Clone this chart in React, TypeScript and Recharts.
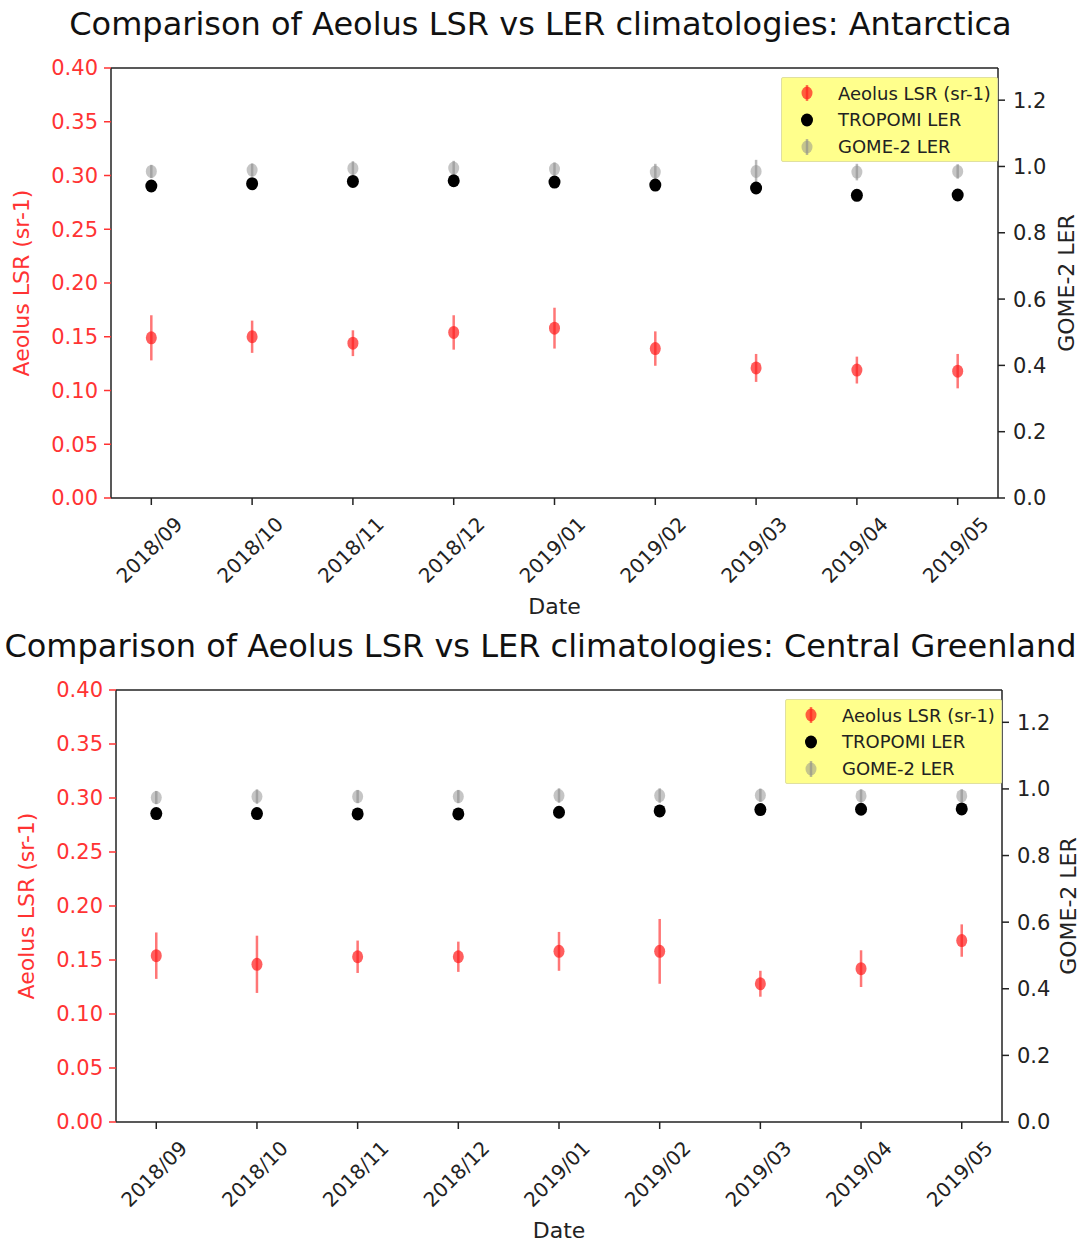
import React from 'react';
import { ScatterChart, Scatter, XAxis, YAxis, ErrorBar, ReferenceLine } from 'recharts';

const FONT = '"DejaVu Sans", Verdana, sans-serif';

const categories = ['2018/09', '2018/10', '2018/11', '2018/12', '2019/01', '2019/02', '2019/03', '2019/04', '2019/05'];
const leftTicks = [0, 0.05, 0.1, 0.15, 0.2, 0.25, 0.3, 0.35, 0.4];
const rightTicks = [0, 0.2, 0.4, 0.6, 0.8, 1.0, 1.2];

// Antarctica
const antAeolus = [0.149, 0.150, 0.144, 0.154, 0.158, 0.139, 0.121, 0.119, 0.118];
const antAeolusErr = [0.021, 0.015, 0.012, 0.016, 0.019, 0.016, 0.013, 0.0125, 0.016];
const antTropomi = [0.941, 0.948, 0.955, 0.957, 0.953, 0.944, 0.935, 0.913, 0.914];
const antGome = [0.985, 0.989, 0.994, 0.995, 0.992, 0.983, 0.985, 0.983, 0.985];
const antGomeErr = [0.02, 0.02, 0.022, 0.022, 0.02, 0.025, 0.035, 0.025, 0.022];

// Central Greenland
const grnAeolus = [0.154, 0.146, 0.153, 0.153, 0.158, 0.158, 0.128, 0.142, 0.168];
const grnAeolusErr = [0.0215, 0.0265, 0.015, 0.014, 0.018, 0.030, 0.012, 0.017, 0.015];
const grnTropomi = [0.926, 0.926, 0.925, 0.925, 0.930, 0.934, 0.938, 0.939, 0.940];
const grnGome = [0.974, 0.977, 0.977, 0.977, 0.980, 0.980, 0.981, 0.979, 0.979];
const grnGomeErr = [0.02, 0.022, 0.02, 0.02, 0.022, 0.022, 0.02, 0.02, 0.02];

const toPoints = (vals: number[], errs?: number[]) =>
  vals.map((v, i) => ({ x: i, y: v, err: errs ? errs[i] : 0 }));

const RED = '#ff1a1a';
const GREY = '#8c8c8c';

const redShape = (p: any) => (
  <ellipse cx={p.cx} cy={p.cy} rx={5.5} ry={6.5} fill={RED} fillOpacity={0.7} />
);
const blackShape = (p: any) => (
  <ellipse cx={p.cx} cy={p.cy} rx={6} ry={6.5} fill="#000" />
);
const greyShape = (p: any) => (
  <ellipse cx={p.cx} cy={p.cy} rx={5.5} ry={6.5} fill={GREY} fillOpacity={0.5} />
);

const XTick = (props: any) => {
  const { x, y, payload } = props;
  const cx = x - 2;
  const cy = y + 43;
  return (
    <text
      x={cx}
      y={cy}
      textAnchor="middle"
      dominantBaseline="central"
      fontSize={20}
      fontFamily={FONT}
      fill="#222"
      transform={`rotate(-45, ${cx}, ${cy})`}
    >
      {categories[payload.value]}
    </text>
  );
};

type PanelProps = {
  title: string;
  top: number;
  height: number;
  plotLeft: number;
  plotRight: number;
  plotTop: number;
  plotBottom: number;
  aeolus: number[];
  aeolusErr: number[];
  tropomi: number[];
  gome: number[];
  gomeErr: number[];
  legendBox: { left: number; top: number; width: number; height: number };
  rightLabelX: number;
};

const LegendMarker = ({ kind }: { kind: 'red' | 'black' | 'grey' }) => (
  <svg width={14} height={18} style={{ display: 'block' }}>
    {kind === 'red' && (
      <g>
        <line x1={7} y1={1} x2={7} y2={17} stroke={RED} strokeOpacity={0.6} strokeWidth={2.5} />
        <ellipse cx={7} cy={9} rx={5.5} ry={6.5} fill={RED} fillOpacity={0.7} />
      </g>
    )}
    {kind === 'black' && <ellipse cx={7} cy={9} rx={6} ry={6.5} fill="#000" />}
    {kind === 'grey' && (
      <g>
        <line x1={7} y1={1} x2={7} y2={17} stroke={GREY} strokeOpacity={0.6} strokeWidth={2.5} />
        <ellipse cx={7} cy={9} rx={5.5} ry={6.5} fill={GREY} fillOpacity={0.5} />
      </g>
    )}
  </svg>
);

const legendItems: { kind: 'red' | 'black' | 'grey'; label: string }[] = [
  { kind: 'red', label: 'Aeolus LSR (sr-1)' },
  { kind: 'black', label: 'TROPOMI LER' },
  { kind: 'grey', label: 'GOME-2 LER' },
];

function Panel(props: PanelProps) {
  const { title, top, height, plotLeft, plotRight, plotTop, plotBottom, legendBox } = props;
  const W = 1081;
  const yAxisW = 60;
  const xAxisH = 60;
  const margin = {
    left: plotLeft - yAxisW,
    right: W - plotRight - yAxisW,
    top: plotTop,
    bottom: height - plotBottom - xAxisH,
  };
  const midY = (plotTop + plotBottom) / 2;
  const midX = (plotLeft + plotRight) / 2;
  return (
    <div style={{ position: 'absolute', left: 0, top, width: W, height }}>
      <div
        style={{
          position: 'absolute',
          left: 0,
          width: W,
          top: plotTop - 62,
          textAlign: 'center',
          fontFamily: FONT,
          fontSize: 32,
          lineHeight: '36px',
          color: '#111',
          whiteSpace: 'nowrap',
        }}
      >
        {title}
      </div>
      <div style={{ position: 'absolute', left: 0, top: 0 }}>
        <ScatterChart width={W} height={height} margin={margin}>
          <XAxis
            type="number"
            dataKey="x"
            domain={[-0.4, 8.4]}
            ticks={[0, 1, 2, 3, 4, 5, 6, 7, 8]}
            interval={0}
            height={xAxisH}
            tickSize={7}
            tickMargin={2}
            tick={<XTick />}
            tickLine={{ stroke: '#222', strokeWidth: 1.5 }}
            axisLine={{ stroke: '#222', strokeWidth: 1.5 }}
          />
          <YAxis
            yAxisId="left"
            orientation="left"
            type="number"
            dataKey="y"
            domain={[0, 0.4]}
            ticks={leftTicks}
            interval={0}
            width={yAxisW}
            tickSize={7}
            tickMargin={6}
            tickFormatter={(v: number) => v.toFixed(2)}
            tick={{ fill: '#ff3333', fontSize: 21, fontFamily: FONT }}
            tickLine={{ stroke: '#ff3333', strokeWidth: 1.5 }}
            axisLine={{ stroke: '#222', strokeWidth: 1.5 }}
          />
          <YAxis
            yAxisId="right"
            orientation="right"
            type="number"
            dataKey="y"
            domain={[0, 1.297]}
            allowDataOverflow
            ticks={rightTicks}
            interval={0}
            width={yAxisW}
            tickSize={7}
            tickMargin={8}
            tickFormatter={(v: number) => v.toFixed(1)}
            tick={{ fill: '#222', fontSize: 21, fontFamily: FONT }}
            tickLine={{ stroke: '#222', strokeWidth: 1.5 }}
            axisLine={{ stroke: '#222', strokeWidth: 1.5 }}
          />
          <ReferenceLine
            yAxisId="left"
            y={0.4}
            stroke="#222"
            strokeWidth={1.5}
            ifOverflow="visible"
          />
          <Scatter
            name="Aeolus LSR (sr-1)"
            yAxisId="left"
            data={toPoints(props.aeolus, props.aeolusErr)}
            shape={redShape}
            isAnimationActive={false}
          >
            <ErrorBar
              dataKey="err"
              direction="y"
              width={0}
              stroke={RED}
              strokeOpacity={0.6}
              strokeWidth={2.5}
              isAnimationActive={false}
            />
          </Scatter>
          <Scatter
            name="TROPOMI LER"
            yAxisId="right"
            data={toPoints(props.tropomi)}
            shape={blackShape}
            isAnimationActive={false}
          />
          <Scatter
            name="GOME-2 LER"
            yAxisId="right"
            data={toPoints(props.gome, props.gomeErr)}
            shape={greyShape}
            isAnimationActive={false}
          >
            <ErrorBar
              dataKey="err"
              direction="y"
              width={0}
              stroke={GREY}
              strokeOpacity={0.6}
              strokeWidth={2.5}
              isAnimationActive={false}
            />
          </Scatter>
        </ScatterChart>
      </div>
      {/* left axis label */}
      <div
        style={{
          position: 'absolute',
          left: plotLeft - 89,
          top: midY,
          transform: 'translate(-50%, -50%) rotate(-90deg)',
          fontFamily: FONT,
          fontSize: 22,
          color: '#ff3333',
          whiteSpace: 'nowrap',
          lineHeight: '22px',
        }}
      >
        Aeolus LSR (sr-1)
      </div>
      {/* right axis label */}
      <div
        style={{
          position: 'absolute',
          left: props.rightLabelX,
          top: midY,
          transform: 'translate(-50%, -50%) rotate(-90deg)',
          fontFamily: FONT,
          fontSize: 22,
          color: '#222',
          whiteSpace: 'nowrap',
          lineHeight: '20px',
        }}
      >
        GOME-2 LER
      </div>
      {/* x axis label */}
      <div
        style={{
          position: 'absolute',
          left: midX,
          top: plotBottom + 109,
          transform: 'translate(-50%, -50%)',
          fontFamily: FONT,
          fontSize: 22,
          color: '#222',
          whiteSpace: 'nowrap',
          lineHeight: '24px',
        }}
      >
        Date
      </div>
      {/* legend */}
      <div
        style={{
          position: 'absolute',
          left: legendBox.left,
          top: legendBox.top,
          width: legendBox.width,
          height: legendBox.height,
          background: '#ffff8c',
          border: '1px solid #e0e0a0',
          boxSizing: 'border-box',
          borderRadius: 2,
        }}
      >
        {legendItems.map((it, i) => (
          <div
            key={it.label}
            style={{
              position: 'absolute',
              left: 18,
              top: 3 + i * 26.8,
              height: 24,
              display: 'flex',
              alignItems: 'center',
              whiteSpace: 'nowrap',
            }}
          >
            <LegendMarker kind={it.kind} />
            <span
              style={{
                marginLeft: 24,
                fontFamily: FONT,
                fontSize: 18,
                color: '#222',
              }}
            >
              {it.label}
            </span>
          </div>
        ))}
      </div>
    </div>
  );
}

export default function App() {
  return (
    <div
      style={{
        position: 'absolute',
        left: 0,
        top: 0,
        width: 1081,
        height: 1245,
        background: '#fff',
        overflow: 'hidden',
      }}
    >
      <Panel
        title="Comparison of Aeolus LSR vs LER climatologies: Antarctica"
        top={0}
        height={620}
        plotLeft={111}
        plotRight={998}
        plotTop={68}
        plotBottom={498}
        aeolus={antAeolus}
        aeolusErr={antAeolusErr}
        tropomi={antTropomi}
        gome={antGome}
        gomeErr={antGomeErr}
        legendBox={{ left: 781, top: 77, width: 217, height: 85 }}
        rightLabelX={1067}
      />
      <Panel
        title="Comparison of Aeolus LSR vs LER climatologies: Central Greenland"
        top={620}
        height={625}
        plotLeft={116}
        plotRight={1002}
        plotTop={70}
        plotBottom={502}
        aeolus={grnAeolus}
        aeolusErr={grnAeolusErr}
        tropomi={grnTropomi}
        gome={grnGome}
        gomeErr={grnGomeErr}
        legendBox={{ left: 785, top: 79, width: 217, height: 85 }}
        rightLabelX={1069}
      />
    </div>
  );
}
